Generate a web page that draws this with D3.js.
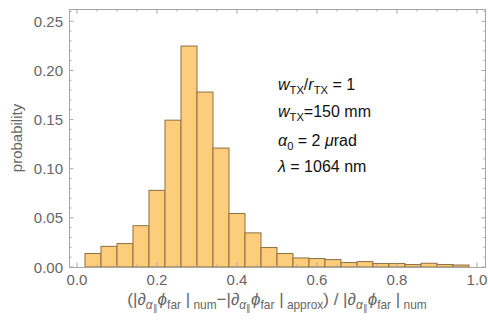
<!DOCTYPE html>
<html>
<head>
<meta charset="utf-8">
<script src="https://cdn.jsdelivr.net/npm/d3@7"></script>
<style>
  body { margin: 0; background: #fff; }
  svg { display: block; font-family: "Liberation Sans", Arial, sans-serif; }
</style>
</head>
<body>
<div id="chart"></div>
<script>
// Histogram bins (left/right edges) and probability per bin
const binEdges = [0.02, 0.06, 0.10, 0.14, 0.18, 0.22, 0.26, 0.30, 0.34, 0.38, 0.42, 0.46, 0.50,
                  0.54, 0.58, 0.62, 0.66, 0.70, 0.74, 0.78, 0.82, 0.86, 0.90, 0.94, 0.98];
const probabilities = [0.0137, 0.0210, 0.0238, 0.0420, 0.0780, 0.1494, 0.2248, 0.1780, 0.1210, 0.0544,
                       0.0347, 0.0198, 0.0137, 0.0092, 0.0086, 0.0075, 0.0045, 0.0055, 0.0035, 0.0035,
                       0.0025, 0.0038, 0.0025, 0.0020];
const xTicks = [0, 0.2, 0.4, 0.6, 0.8, 1.0];
const yTicks = [0, 0.05, 0.10, 0.15, 0.20, 0.25];

const annotationLines = [
    [{ t: "w", it: true }, { t: "TX", sub: true }, { t: "/" }, { t: "r", it: true }, { t: "TX", sub: true }, { t: " = 1" }],
    [{ t: "w", it: true }, { t: "TX", sub: true }, { t: "=150 mm" }],
    [{ t: "α", it: true }, { t: "0", sub: true }, { t: " = 2 " }, { t: "μ", it: true }, { t: "rad" }],
    [{ t: "λ", it: true }, { t: " = 1064 nm" }]
];

const dAlpha = [{ t: "∂", it: true }, { t: "α", it: true, sub: true }, { t: "∥", sub: 2 }];
const phiFar = [{ t: "ϕ", it: true }, { t: "far", sub: true }];
const xLabelParts = [
    { t: "(|" }, ...dAlpha, ...phiFar, { t: " |" }, { t: " num", sub: true },
    { t: "−|" }, ...dAlpha, ...phiFar, { t: " |" }, { t: " approx", sub: true },
    { t: ") / |" }, ...dAlpha, ...phiFar, { t: " |" }, { t: " num", sub: true }
];

const width = 488, height = 320;
const margin = { top: 9, right: 2, bottom: 53, left: 69 };

const frameColor = "#a6a6a6";
const labelColor = "#666666";

const svg = d3.select("#chart").append("svg")
    .attr("width", width)
    .attr("height", height);

const x = d3.scaleLinear()
    .domain([-0.02, 1.0225])
    .range([margin.left, width - margin.right]);

const y = d3.scaleLinear()
    .domain([0, 0.2625])
    .range([height - margin.bottom, margin.top]);

const bins = probabilities.map((p, i) => ({ x0: binEdges[i], x1: binEdges[i + 1], p }));

// bars
svg.append("g")
    .selectAll("rect")
    .data(bins)
    .join("rect")
    .attr("x", d => x(d.x0))
    .attr("y", d => y(d.p))
    .attr("width", d => x(d.x1) - x(d.x0))
    .attr("height", d => y(0) - y(d.p))
    .attr("fill", "#fecd7b")
    .attr("stroke", "#8c6f42")
    .attr("stroke-width", 1);

// frame with inward ticks (Mathematica style)
const frame = svg.append("g");
const [xl, xr] = x.range();
const [yb, yt] = y.range();

const minorX = d3.range(0, 1.0001, 0.05);
const minorY = d3.range(0, 0.2601, 0.01);

function tickLines(vals, isMajor, side) {
    vals.forEach(v => {
        const len = isMajor(v) ? 4.5 : 2.5;
        let x1, x2, y1, y2;
        if (side === "bottom") { x1 = x2 = x(v); y1 = yb; y2 = yb - len; }
        if (side === "top") { x1 = x2 = x(v); y1 = yt; y2 = yt + len; }
        if (side === "left") { y1 = y2 = y(v); x1 = xl; x2 = xl + len; }
        if (side === "right") { y1 = y2 = y(v); x1 = xr; x2 = xr - len; }
        frame.append("line")
            .attr("x1", x1).attr("x2", x2).attr("y1", y1).attr("y2", y2)
            .attr("stroke", frameColor).attr("stroke-width", 1);
    });
}
const isMajorX = v => xTicks.some(t => Math.abs(t - v) < 1e-6);
const isMajorY = v => yTicks.some(t => Math.abs(t - v) < 1e-6);
tickLines(minorX, isMajorX, "bottom");
tickLines(minorX, isMajorX, "top");
tickLines(minorY, isMajorY, "left");
tickLines(minorY, isMajorY, "right");

frame.append("rect")
    .attr("x", xl + 0.5).attr("y", yt + 0.5)
    .attr("width", xr - xl - 1).attr("height", yb - yt)
    .attr("fill", "none")
    .attr("stroke", frameColor)
    .attr("stroke-width", 1);

// tick labels
svg.append("g")
    .selectAll("text")
    .data(xTicks)
    .join("text")
    .attr("x", d => x(d))
    .attr("y", yb + 18)
    .attr("text-anchor", "middle")
    .attr("fill", labelColor)
    .style("font-size", "15px")
    .text(d => d3.format(".1f")(d));

svg.append("g")
    .selectAll("text")
    .data(yTicks)
    .join("text")
    .attr("x", xl - 6)
    .attr("y", d => y(d) + 5.5)
    .attr("text-anchor", "end")
    .attr("fill", labelColor)
    .style("font-size", "15px")
    .text(d => d3.format(".2f")(d));

// rich text helper with subscripts
function richText(sel, parts, size) {
    let cur = 0;
    parts.forEach(p => {
        const off = p.sub === 2 ? size * 0.38 : p.sub ? size * 0.25 : 0;
        const fs = p.sub === 2 ? size * 0.55 : p.sub ? size * 0.7 : size;
        sel.append("tspan")
            .attr("dy", off - cur)
            .style("font-size", fs + "px")
            .style("font-style", p.it ? "italic" : null)
            .text(p.t);
        cur = off;
    });
}

// axis labels
svg.append("text")
    .attr("transform", `translate(22,${(yt + yb) / 2}) rotate(-90)`)
    .attr("text-anchor", "middle")
    .attr("fill", labelColor)
    .style("font-size", "15px")
    .text("probability");

const xLab = svg.append("text")
    .attr("x", 277)
    .attr("y", 305)
    .attr("text-anchor", "middle")
    .attr("fill", labelColor);
richText(xLab, xLabelParts, 17);

// annotation
const annBaselines = [90, 117, 146, 172];
annotationLines.forEach((parts, i) => {
    const t = svg.append("text")
        .attr("x", 278)
        .attr("y", annBaselines[i])
        .attr("fill", "#111");
    richText(t, parts, 16);
});
</script>
</body>
</html>
